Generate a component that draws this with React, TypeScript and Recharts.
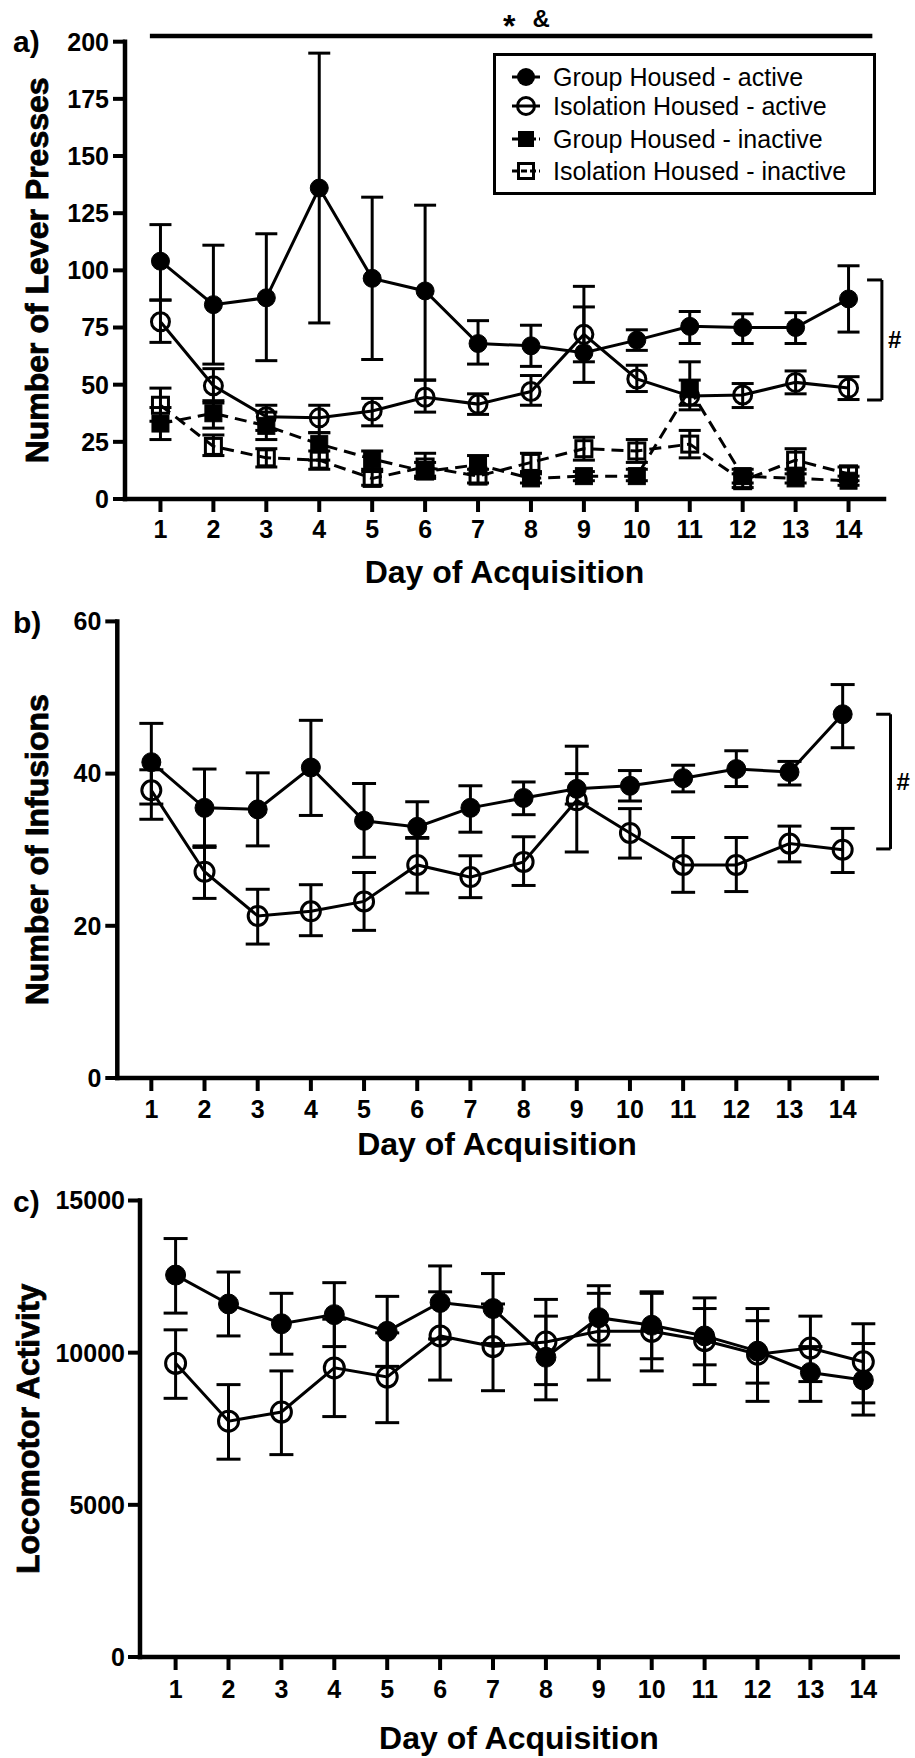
import React from 'react'
import { LineChart, Line, XAxis, YAxis, ErrorBar, ReferenceLine, Legend } from 'recharts'

const FONT = "'Liberation Sans', Arial, Helvetica, sans-serif"

const days = [1, 2, 3, 4, 5, 6, 7, 8, 9, 10, 11, 12, 13, 14]

// a) lever presses
const leverTicks = [0, 25, 50, 75, 100, 125, 150, 175, 200]
const groupActive = [104, 85, 88, 136, 96.5, 91, 68, 67, 64, 69.5, 75.5, 75, 75, 87.5]
const groupActiveHi = [120, 111, 116, 195, 132, 128.5, 78, 76, 93, 74, 82, 81, 81.5, 102]
const groupActiveLo = [87, 59, 60.5, 77, 61, 52, 59, 58, 51, 65, 68, 68, 68, 73]
const isoActive = [77.5, 49.5, 36, 35.5, 38.5, 44.5, 41.5, 47, 72, 52.5, 45, 45.5, 51, 48.5]
const isoActiveHi = [87, 57, 41, 41, 44, 52, 46, 54, 84, 58.5, 52, 50.5, 56, 53.5]
const isoActiveLo = [68.5, 42, 30, 29, 32, 38, 37, 41, 60, 47, 39, 40, 46, 43.5]
const groupInactive = [33, 37.5, 32, 24, 17.5, 12, 15, 9, 10, 10, 48, 10, 9, 8]
const groupInactiveHi = [40, 43, 38, 29, 21, 16, 19, 11, 12, 13, 60, 13, 11, 10]
const groupInactiveLo = [26, 31, 26, 17, 13, 9, 11, 7, 8, 8, 41, 7, 7, 6]
const isoInactive = [41, 23, 18, 17, 9, 14, 10, 16, 22, 21, 24, 8, 17, 11]
const isoInactiveHi = [48.5, 28, 22, 21, 12, 20, 13, 20, 27, 26, 30, 11, 22, 14]
const isoInactiveLo = [34, 19, 14, 13, 6, 10, 7, 12, 17, 16, 18, 5, 13, 8]
const leverNames = [
  'Group Housed - active',
  'Isolation Housed - active',
  'Group Housed - inactive',
  'Isolation Housed - inactive',
]

// b) infusions
const infusionTicks = [0, 20, 40, 60]
const groupInf = [41.5, 35.5, 35.3, 40.8, 33.8, 33, 35.5, 36.8, 38, 38.4, 39.4, 40.6, 40.2, 47.8]
const groupInfHi = [46.6, 40.6, 40.1, 47, 38.7, 36.3, 38.4, 38.9, 40, 40.4, 41.1, 43, 41.6, 51.7]
const groupInfLo = [36, 30.3, 30.5, 34.5, 29, 31.5, 32.3, 34.6, 36, 36.4, 37.6, 38.3, 38.5, 43.4]
const isoInf = [37.8, 27.1, 21.3, 21.9, 23.2, 28, 26.4, 28.4, 36.5, 32.2, 28, 28, 30.8, 30]
const isoInfHi = [40.5, 30.5, 24.8, 25.4, 27, 31.6, 29.2, 31.7, 43.6, 35.4, 31.6, 31.6, 33.1, 32.8]
const isoInfLo = [34, 23.6, 17.6, 18.7, 19.4, 24.3, 23.7, 25.3, 29.7, 28.9, 24.4, 24.5, 28.4, 27]

// c) locomotor activity
const locoTicks = [0, 5000, 10000, 15000]
const groupLoco = [12550, 11600, 10950, 11250, 10700, 11650, 11450, 9850, 11150, 10900, 10550, 10050, 9350, 9100]
const groupLocoHi = [13750, 12650, 11950, 12300, 11850, 12850, 12600, 11200, 12200, 11950, 11450, 11050, 10200, 10300]
const groupLocoLo = [11300, 10550, 9950, 10200, 9550, 10450, 10300, 8450, 10250, 9800, 9600, 9000, 8400, 7950]
const isoLoco = [9650, 7750, 8050, 9500, 9200, 10550, 10200, 10350, 10700, 10700, 10400, 9950, 10150, 9700]
const isoLocoHi = [10750, 8950, 9400, 11100, 10650, 12000, 11600, 11750, 11950, 12000, 11800, 11450, 11200, 10950]
const isoLocoLo = [8500, 6500, 6650, 7900, 7700, 9100, 8750, 8950, 9100, 9400, 8950, 8400, 9050, 8350]

const err = (m: number[], hi: number[], lo: number[], i: number) => [m[i] - lo[i], hi[i] - m[i]]

const leverData = days.map((day, i) => ({
  day,
  ga: groupActive[i],
  gaErr: err(groupActive, groupActiveHi, groupActiveLo, i),
  ia: isoActive[i],
  iaErr: err(isoActive, isoActiveHi, isoActiveLo, i),
  gi: groupInactive[i],
  giErr: err(groupInactive, groupInactiveHi, groupInactiveLo, i),
  ii: isoInactive[i],
  iiErr: err(isoInactive, isoInactiveHi, isoInactiveLo, i),
}))

const infusionData = days.map((day, i) => ({
  day,
  g: groupInf[i],
  gErr: err(groupInf, groupInfHi, groupInfLo, i),
  s: isoInf[i],
  sErr: err(isoInf, isoInfHi, isoInfLo, i),
}))

const locoData = days.map((day, i) => ({
  day,
  g: groupLoco[i],
  gErr: err(groupLoco, groupLocoHi, groupLocoLo, i),
  s: isoLoco[i],
  sErr: err(isoLoco, isoLocoHi, isoLocoLo, i),
}))

const axisLine = { stroke: '#000', strokeWidth: 4.5, strokeLinecap: 'square' as const }
const tickLine = { stroke: '#000', strokeWidth: 4 }
const tickStyle = { fill: '#000', fontSize: 25, fontWeight: 700, fontFamily: FONT }

const xTitle = (cx: number, y: number) => () => (
  <text x={cx} y={y} textAnchor="middle" fontSize={32} fontWeight={700} fontFamily={FONT} fill="#000">
    Day of Acquisition
  </text>
)

const yTitle = (text: string, x: number, cy: number, letter: string, letterY: number) => () => (
  <g>
    <text
      x={x}
      y={cy}
      transform={`rotate(-90, ${x}, ${cy})`}
      textAnchor="middle"
      fontSize={32}
      fontWeight={700}
      fontFamily={FONT}
      fill="#000"
      stroke="#000"
      strokeWidth={0.8}
    >
      {text}
    </text>
    <text x={13} y={letterY} fontSize={30} fontWeight={700} fontFamily={FONT} fill="#000">
      {letter}
    </text>
  </g>
)

const filledSquare = (props: any) => {
  const { cx, cy, index } = props
  if (cx == null || cy == null) return <g key={`fs-${index}`} />
  return <rect key={`fs-${index}`} x={cx - 8.5} y={cy - 8.5} width={17} height={17} fill="#000" stroke="#000" strokeWidth={1} />
}

const openSquare = (props: any) => {
  const { cx, cy, index } = props
  if (cx == null || cy == null) return <g key={`os-${index}`} />
  return <rect key={`os-${index}`} x={cx - 8} y={cy - 8} width={16} height={16} fill="none" stroke="#000" strokeWidth={3} />
}

const legendRowY = [24, 53, 86, 118]

const renderLegend = () => (
  <svg width={383} height={142} style={{ display: 'block' }}>
    <rect x={1.5} y={1.5} width={380} height={139} fill="#fff" stroke="#000" strokeWidth={3} />
    {leverNames.map((name, i) => {
      const cy = legendRowY[i]
      return (
        <g key={name}>
          <line x1={19} x2={47} y1={cy} y2={cy} stroke="#000" strokeWidth={3} strokeDasharray={i > 1 ? '6 3' : undefined} />
          {i === 0 && <circle cx={33} cy={cy} r={9} fill="#000" />}
          {i === 1 && <circle cx={33} cy={cy} r={8.5} fill="none" stroke="#000" strokeWidth={3} />}
          {i === 2 && <rect x={25} y={cy - 8} width={16} height={16} fill="#000" />}
          {i === 3 && <rect x={25.5} y={cy - 7.5} width={15} height={15} fill="none" stroke="#000" strokeWidth={3} />}
          <text x={60} y={cy + 9} fontSize={25} fontFamily={FONT} fill="#000">
            {name}
          </text>
        </g>
      )
    })}
  </svg>
)

const starLabel = (props: any) => {
  const vb = props.viewBox || { x: 150, y: 36, width: 722 }
  const cx = vb.x + vb.width / 2
  return (
    <g>
      <text x={cx - 2} y={vb.y + 1} textAnchor="middle" fontSize={32} fontWeight={700} fontFamily={FONT} fill="#000">
        *
      </text>
      <text x={cx + 30} y={vb.y - 9} textAnchor="middle" fontSize={24} fontWeight={700} fontFamily={FONT} fill="#000">
        &amp;
      </text>
    </g>
  )
}

const hashLabel = { value: '#', position: 'right' as const, offset: 6, fill: '#000', fontSize: 24, fontWeight: 700, fontFamily: FONT }

export default function App() {
  return (
    <div style={{ position: 'absolute', left: 0, top: 0, width: 915, height: 1758, background: '#fff' }}>
      <div style={{ position: 'absolute', left: 0, top: 0 }}>
        <LineChart width={915} height={600} data={leverData} margin={{ top: 41.7, right: 31, bottom: 71, left: 65 }}>
          <XAxis
            dataKey="day"
            type="number"
            domain={[0.33, 14.67]}
            ticks={days}
            interval={0}
            axisLine={axisLine}
            tickLine={tickLine}
            tickSize={13}
            tickMargin={8}
            tick={tickStyle}
            label={xTitle(504.5, 583)}
          />
          <YAxis
            type="number"
            domain={[0, 200]}
            ticks={leverTicks}
            interval={0}
            width={60}
            axisLine={axisLine}
            tickLine={tickLine}
            tickSize={12}
            tickMargin={4}
            tick={tickStyle}
            label={yTitle('Number of Lever Presses', 48, 270.4, 'a)', 52)}
          />
          <ReferenceLine segment={[{ x: 0.8, y: 202.5 }, { x: 14.45, y: 202.5 }]} ifOverflow="visible" stroke="#000" strokeWidth={4.5} label={starLabel} />
          <ReferenceLine segment={[{ x: 14.63, y: 95.8 }, { x: 14.63, y: 43.3 }]} ifOverflow="visible" stroke="#000" strokeWidth={3} label={hashLabel} />
          <ReferenceLine segment={[{ x: 14.35, y: 95.8 }, { x: 14.63, y: 95.8 }]} ifOverflow="visible" stroke="#000" strokeWidth={3} />
          <ReferenceLine segment={[{ x: 14.35, y: 43.3 }, { x: 14.63, y: 43.3 }]} ifOverflow="visible" stroke="#000" strokeWidth={3} />
          <Line dataKey="gi" stroke="#000" strokeWidth={3} strokeDasharray="12 7" dot={filledSquare} activeDot={false} isAnimationActive={false}>
            <ErrorBar dataKey="giErr" direction="y" width={11} stroke="#000" strokeWidth={3} />
          </Line>
          <Line dataKey="ii" stroke="#000" strokeWidth={3} strokeDasharray="12 7" dot={openSquare} activeDot={false} isAnimationActive={false}>
            <ErrorBar dataKey="iiErr" direction="y" width={11} stroke="#000" strokeWidth={3} />
          </Line>
          <Line dataKey="ia" stroke="#000" strokeWidth={3} dot={{ r: 9, fill: 'none', stroke: '#000', strokeWidth: 3 }} activeDot={false} isAnimationActive={false}>
            <ErrorBar dataKey="iaErr" direction="y" width={11} stroke="#000" strokeWidth={3} />
          </Line>
          <Line dataKey="ga" stroke="#000" strokeWidth={3} dot={{ r: 9, fill: '#000', stroke: '#000', strokeWidth: 1 }} activeDot={false} isAnimationActive={false}>
            <ErrorBar dataKey="gaErr" direction="y" width={11} stroke="#000" strokeWidth={3} />
          </Line>
          <Legend layout="horizontal" verticalAlign="middle" align="center" content={renderLegend} wrapperStyle={{ left: 493, top: 53, width: 383, height: 142 }} />
        </LineChart>
      </div>

      <div style={{ position: 'absolute', left: 0, top: 560 }}>
        <LineChart width={915} height={615} data={infusionData} margin={{ top: 61.4, right: 38.3, bottom: 67, left: 57.3 }}>
          <XAxis
            dataKey="day"
            type="number"
            domain={[0.36, 14.64]}
            ticks={days}
            interval={0}
            axisLine={axisLine}
            tickLine={tickLine}
            tickSize={13}
            tickMargin={9}
            tick={tickStyle}
            label={xTitle(497, 595)}
          />
          <YAxis
            type="number"
            domain={[0, 60]}
            ticks={infusionTicks}
            interval={0}
            width={60}
            axisLine={axisLine}
            tickLine={tickLine}
            tickSize={12}
            tickMargin={4}
            tick={tickStyle}
            label={yTitle('Number of Infusions', 48, 289.7, 'b)', 73)}
          />
          <ReferenceLine segment={[{ x: 14.9, y: 47.8 }, { x: 14.9, y: 30.1 }]} ifOverflow="visible" stroke="#000" strokeWidth={3} label={hashLabel} />
          <ReferenceLine segment={[{ x: 14.63, y: 47.8 }, { x: 14.9, y: 47.8 }]} ifOverflow="visible" stroke="#000" strokeWidth={3} />
          <ReferenceLine segment={[{ x: 14.63, y: 30.1 }, { x: 14.9, y: 30.1 }]} ifOverflow="visible" stroke="#000" strokeWidth={3} />
          <Line dataKey="s" stroke="#000" strokeWidth={3} dot={{ r: 9.5, fill: 'none', stroke: '#000', strokeWidth: 3 }} activeDot={false} isAnimationActive={false}>
            <ErrorBar dataKey="sErr" direction="y" width={12} stroke="#000" strokeWidth={3} />
          </Line>
          <Line dataKey="g" stroke="#000" strokeWidth={3} dot={{ r: 9.5, fill: '#000', stroke: '#000', strokeWidth: 1 }} activeDot={false} isAnimationActive={false}>
            <ErrorBar dataKey="gErr" direction="y" width={12} stroke="#000" strokeWidth={3} />
          </Line>
        </LineChart>
      </div>

      <div style={{ position: 'absolute', left: 0, top: 1150 }}>
        <LineChart width={915} height={608} data={locoData} margin={{ top: 50.5, right: 17.3, bottom: 71, left: 80 }}>
          <XAxis
            dataKey="day"
            type="number"
            domain={[0.327, 14.65]}
            ticks={days}
            interval={0}
            axisLine={axisLine}
            tickLine={tickLine}
            tickSize={13}
            tickMargin={10}
            tick={tickStyle}
            label={xTitle(518.9, 599)}
          />
          <YAxis
            type="number"
            domain={[0, 15000]}
            ticks={locoTicks}
            interval={0}
            width={60}
            axisLine={axisLine}
            tickLine={tickLine}
            tickSize={12}
            tickMargin={3}
            tick={tickStyle}
            label={yTitle('Locomotor Activity', 39, 278.8, 'c)', 61.7)}
          />
          <Line dataKey="s" stroke="#000" strokeWidth={3} dot={{ r: 10, fill: 'none', stroke: '#000', strokeWidth: 3 }} activeDot={false} isAnimationActive={false}>
            <ErrorBar dataKey="sErr" direction="y" width={12} stroke="#000" strokeWidth={3} />
          </Line>
          <Line dataKey="g" stroke="#000" strokeWidth={3} dot={{ r: 10, fill: '#000', stroke: '#000', strokeWidth: 1 }} activeDot={false} isAnimationActive={false}>
            <ErrorBar dataKey="gErr" direction="y" width={12} stroke="#000" strokeWidth={3} />
          </Line>
        </LineChart>
      </div>
    </div>
  )
}
